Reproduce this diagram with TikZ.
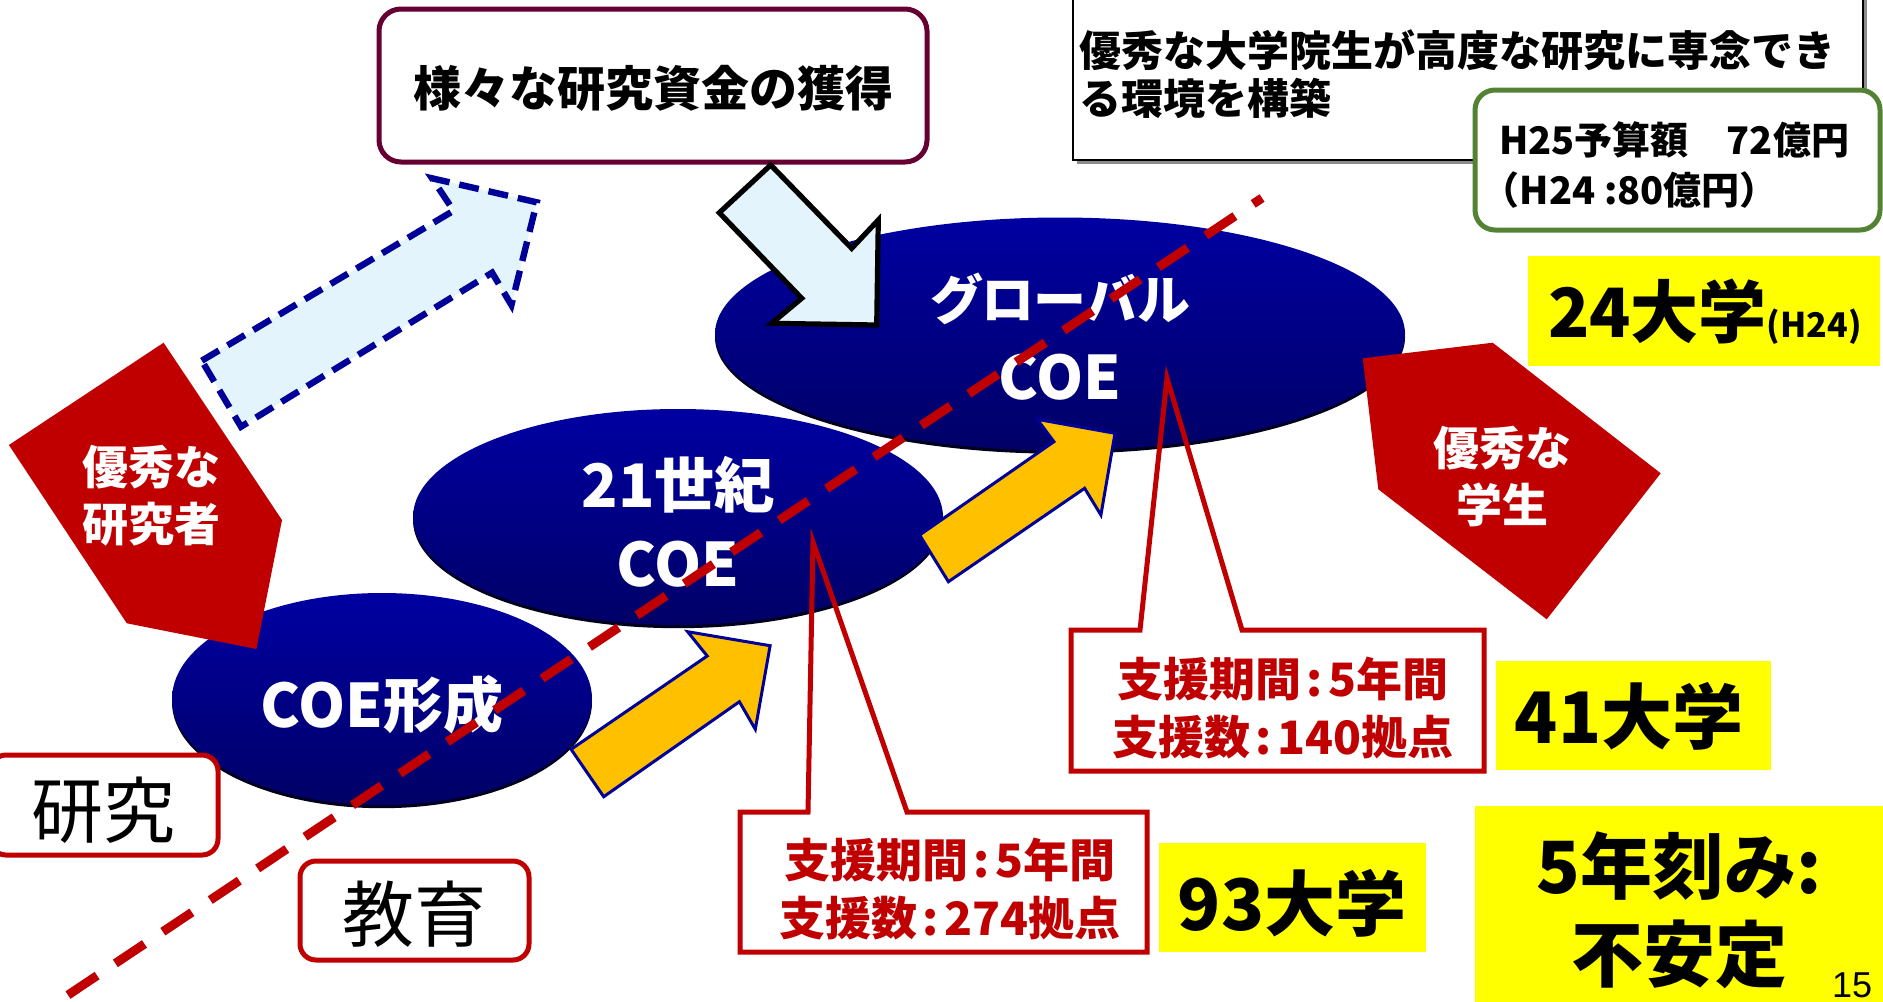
\documentclass[tikz,border=0pt]{standalone}
\usepackage{fontspec}
\setmainfont{Noto Sans CJK JP}
\newfontfamily\arialf{Liberation Sans}
\definecolor{dred}{HTML}{C00000}
\definecolor{maroon}{HTML}{660033}
\definecolor{grn}{HTML}{548235}
\definecolor{navy}{HTML}{000099}
\definecolor{ntop}{HTML}{0000A2}
\definecolor{nbot}{HTML}{000066}
\definecolor{nshadow}{HTML}{00001E}
\definecolor{lblue}{HTML}{E3F4FD}
\definecolor{gold}{HTML}{FFC000}
\definecolor{yel}{HTML}{FFFF00}
\newcommand\fsz[2]{\fontsize{#1pt}{#2pt}\selectfont}
\newcommand\cln{\kern0.12em:\kern0.12em}
\newcommand\coeell[3]{%
  \fill[nshadow, yshift=-1.6pt] #1 ellipse [x radius=#2, y radius=#3];
  \shade[top color=ntop, bottom color=nbot] #1 ellipse [x radius=#2, y radius=#3];}
\begin{document}
\begin{tikzpicture}[x=0.5pt,y=-0.5pt,
  lbl/.style={inner sep=0pt, outer sep=0pt, align=center},
  callout/.style={draw=dred, line width=2.5pt, line join=miter},
  ybox/.style={fill=yel},
  ybig/.style={lbl, font=\bfseries\fsz{35.5}{40}},
  coetxt/.style={lbl, text=white, font=\bfseries\fsz{30}{39.5}},
  pentxt/.style={lbl, text=white, font=\bfseries\fsz{23}{28.5}},
  redtxt/.style={lbl, text=dred, font=\bfseries\fsz{23}{29}},
  yarrow/.style={fill=gold, draw=navy, line width=1.5pt, line join=miter},
  lbarrow/.style={fill=lblue, draw=black, line width=2.6pt, line join=miter},
  dsharrow/.style={fill=lblue, draw=navy, line width=3.2pt, line join=miter, dash pattern=on 10pt off 5pt},
  rrbox/.style={draw=dred, line width=2.5pt, fill=white, rounded corners=8pt},
  axisline/.style={draw=dred, line width=4.5pt, dash pattern=on 17.5pt off 11pt},
  pent/.style={fill=dred}]
\useasboundingbox (0,0) rectangle (1883,1001);
\clip (0,0) rectangle (1883,1001);

% top-right goal box with shadow
\fill[black!45] (1077,-10) rectangle (1867,164);
\draw[black, line width=1pt, fill=white] (1073,-10) rectangle (1863,160);
\node[lbl, anchor=west, align=left, font=\bfseries\fsz{21}{24}] (goal) at (1079,74)
  {優秀な大学院生が高度な研究に専念でき\\る環境を構築};

% budget box
\draw[grn, line width=2.5pt, fill=white, rounded corners=10pt] (1475,90) rectangle (1880,230);
\node[lbl, anchor=west, align=left, font=\bfseries\fsz{19}{25}] (budget) at (1499,165)
  {H25予算額　72億円\\\kern-0.45em（H24 :80億円）};

% funds box
\draw[maroon, line width=2.5pt, fill=white, rounded corners=11pt] (379,9) rectangle (927,162);
\node[lbl, font=\bfseries\fsz{24}{28}] (funds) at (653,88) {様々な研究資金の獲得};

% ellipses
\coeell{(1060,334)}{345}{116.5}
\coeell{(678,517)}{265}{108}
\coeell{(382,699)}{210}{106}
\node[coetxt, font=\bfseries\fsz{30}{40}] (gcoe) at (1060,337) {{\fsz{26.5}{40}\addfontfeatures{RawFeature=+palt}グローバル}\\COE};
\node[coetxt] (c21) at (678,522) {21世紀\\COE};
\node[coetxt] (cform) at (382,705) {COE形成};

% callout 140
\fill[white] (1071,630) rectangle (1484,771);
\draw[callout] (1140,630) -- (1167,378) -- (1242,630) -- (1484,630) -- (1484,771) -- (1071,771) -- (1071,630) -- cycle;
\node[redtxt] (sup140) at (1283,708) {支援期間\cln 5年間\\支援数\cln 140拠点};

% callout 274
\fill[white] (740,812) rectangle (1147,952);
\draw[callout] (808,812) -- (813,542) -- (907,812) -- (1147,812) -- (1147,952) -- (740,952) -- (740,812) -- cycle;
\node[redtxt] (sup274) at (950,889) {支援期間\cln 5年間\\支援数\cln 274拠点};

% yellow boxes
\fill[ybox] (1528,256) rectangle (1880,366);
\node[lbl, font=\bfseries\fsz{34}{38}] (u24) at (1705,312) {24大学{\fsz{17}{17}(H24)}};
\fill[ybox] (1496,661) rectangle (1771,770);
\node[ybig] (u41) at (1629,716) {41大学};
\fill[ybox] (1159,843) rectangle (1426,952);
\node[ybig] (u93) at (1292,903) {93大学};
\fill[ybox] (1475,806) rectangle (1890,1010);
\node[lbl, font=\bfseries\fsz{36}{44}] (unst) at (1679,910) {5年刻み:\\不安定};
\node[lbl, font=\arialf\fsz{18}{18}] (pg) at (1852,985) {15};

% arrows
\draw[yarrow] (603.7,796.7) -- (571.1,749.3) -- (707.2,656) -- (687.6,631.7) -- (770.1,645.7) -- (755.3,729.3) -- (739.4,701.7) -- cycle;
\draw[yarrow] (948.4,581.7) -- (919.6,535) -- (1053.9,441.7) -- (1037.2,419.3) -- (1115,433.3) -- (1100.9,515) -- (1084.6,488.3) -- cycle;
\draw[lbarrow] (770.7,165) -- (851.7,248.3) -- (878.3,220) -- (876.7,325) -- (771.7,323.3) -- (801.7,298.3) -- (719.3,212.7) -- cycle;
\draw[dsharrow] (201.8,360.7) -- (453.6,210.7) -- (432,178.3) -- (536.8,202.3) -- (511.4,305) -- (492.1,272.7) -- (241,426.7) -- cycle;

% red pentagons
\fill[pent] (163.6,342.7) -- (282,520) -- (256.4,649) -- (126.8,623.3) -- (8.9,445) -- cycle;
\node[pentxt] (res) at (151,496) {優秀な\\研究者};
\fill[pent] (1362.7,358.3) -- (1492.7,342.7) -- (1660.7,473.3) -- (1546.7,619.3) -- (1378.3,489.3) -- cycle;
\node[pentxt] (stu) at (1502,477) {優秀な\\学生};

% research / education labels
\draw[rrbox] (-10,755) rectangle (218,855);
\node[lbl, font=\fsz{36}{36}] (kenkyu) at (104,810) {研究};
\draw[rrbox] (300,861) rectangle (529,960);
\node[lbl, font=\fsz{36}{36}] (kyoiku) at (414,914) {教育};

% dividing dashed line
\coordinate (dl0) at (68,995);
\coordinate (dl1) at (1262,198);
\draw[axisline] (dl0) -- (dl1);
\end{tikzpicture}
\end{document}
